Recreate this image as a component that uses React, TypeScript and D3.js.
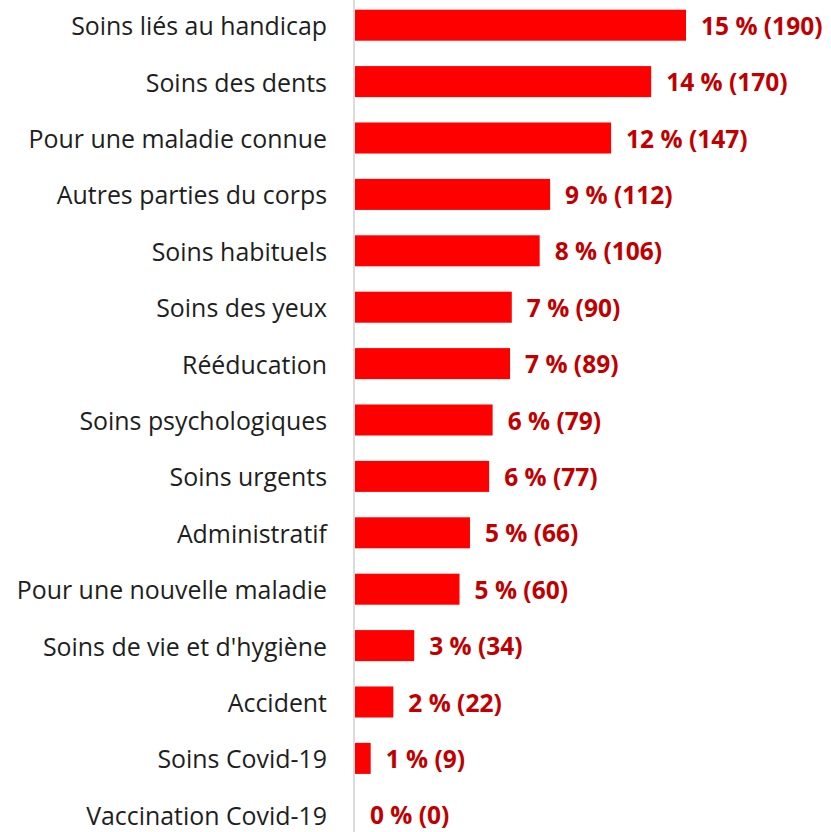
import React from 'react';
import * as d3 from 'd3';

// données
const categories = [
  'Soins liés au handicap',
  'Soins des dents',
  'Pour une maladie connue',
  'Autres parties du corps',
  'Soins habituels',
  'Soins des yeux',
  'Rééducation',
  'Soins psychologiques',
  'Soins urgents',
  'Administratif',
  'Pour une nouvelle maladie',
  "Soins de vie et d'hygiène",
  'Accident',
  'Soins Covid-19',
  'Vaccination Covid-19',
];
const counts = [190, 170, 147, 112, 106, 90, 89, 79, 77, 66, 60, 34, 22, 9, 0];
const percents = [15, 14, 12, 9, 8, 7, 7, 6, 6, 5, 5, 3, 2, 1, 0];

const width = 831;
const height = 832;

const App = () => {
  const x = d3.scaleLinear().domain([0, 190]).range([355, 686]);
  const y = d3
    .scaleBand<string>()
    .domain(categories)
    .range([-3, 843])
    .paddingInner(0.45)
    .paddingOuter(0.225);

  const font = "'Open Sans', Lato, sans-serif";

  return (
    <div style={{ position: 'absolute', left: 0, top: 0 }}>
      <svg width={width} height={height} style={{ display: 'block', background: '#fff' }}>
        {categories.map((c, i) => {
          const yc = (y(c) ?? 0) + y.bandwidth() / 2;
          return (
            <g key={c}>
              <text
                x={327}
                y={yc}
                textAnchor="end"
                dominantBaseline="central"
                fontFamily={font}
                fontSize={24.9}
                fill="#1e1e1e"
              >
                {c}
              </text>
              <rect
                x={x(0)}
                y={y(c)}
                width={x(counts[i]) - x(0)}
                height={y.bandwidth()}
                fill="#ff0000"
              />
              <text
                x={x(counts[i]) + 15}
                y={yc}
                dominantBaseline="central"
                fontFamily={font}
                fontWeight="bold"
                fontSize={24.5}
                fill="#c00000"
              >
                {`${percents[i]} % (${counts[i]})`}
              </text>
            </g>
          );
        })}
        {/* axe vertical */}
        <line x1={354} x2={354} y1={0} y2={height} stroke="#d0d0d0" strokeWidth={1.5} />
      </svg>
    </div>
  );
};

export default App;
